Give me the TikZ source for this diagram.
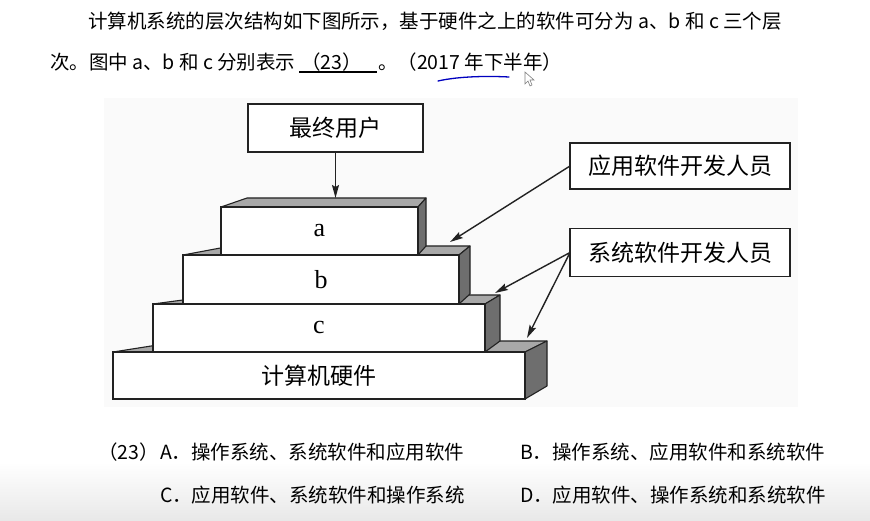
\documentclass[tikz,border=0pt]{standalone}
\usepackage{fontspec}
\setmainfont{Liberation Serif}
\newfontfamily\cjk{Noto Sans CJK SC}
\usetikzlibrary{arrows.meta,calc}
\newcommand\hdr{\cjk\fontsize{19.5}{21}\selectfont}
\newcommand\lbl{\cjk\fontsize{23}{25}\selectfont}
\definecolor{topgray}{HTML}{A8A8A8}
\definecolor{sidegray}{HTML}{6E6E6E}
\definecolor{edge}{HTML}{222222}
\begin{document}
\begin{tikzpicture}[x=1pt,y=-1pt,
  txt/.style={inner sep=0pt, outer sep=0pt, anchor=west, font=\hdr},
  lblbox/.style={draw=edge, line width=1.3pt, fill=white, inner sep=0pt, outer sep=0pt, font=\lbl},
  front/.style={draw=edge, line width=1.3pt, fill=white, inner sep=0pt, outer sep=0pt},
  topface/.style={draw=edge, line width=1.1pt, fill=topgray, line join=round},
  sideface/.style={draw=edge, line width=1.1pt, fill=sidegray, line join=round},
  arr/.style={draw=edge, line width=1.4pt, -{Stealth[length=13pt,width=7pt,inset=2pt]}}
]
\useasboundingbox (0,0) rectangle (870,521);
\shade[top color=white, bottom color=black!9] (0,462) rectangle (870,521);
\fill[black!2] (104,98) rectangle (798,407);

% header text
\node[txt] (l1) at (88,21) {计算机系统的层次结构如下图所示，基于硬件之上的软件可分为 a、b 和 c 三个层};
\node[txt] (l2a) at (50,62) {次。图中 a、b 和 c 分别表示};
\node[txt] (l2b) at (301,62) {（23）};
\node[txt] (l2c) at (378,62) {。（2017 年下半年）};
\draw[line width=1.1pt] (299,72) -- (377,72);
\draw[blue!75!black, line width=1.3pt, line cap=round] (438,81) .. controls (460,76) and (490,76) .. (509,77);
\draw[gray, line width=0.6pt, fill=white] (525,72) -- (525,84) -- (528,81) -- (530,86) -- (532,85) -- (530,80) -- (534,80) -- cycle;

% blocks: hardware
\node[front, minimum width=412pt, minimum height=47pt, font=\lbl] (hw) at (319,375.5) {计算机硬件};
\path[topface] (hw.north west) -- ($(hw.north west)+(70,-11)$) -- ($(hw.north east)+(22,-11)$) -- (hw.north east) -- cycle;
\path[sideface] (hw.north east) -- ($(hw.north east)+(22,-11)$) -- ($(hw.south east)+(22,-13)$) -- (hw.south east) -- cycle;
\node[front, minimum width=412pt, minimum height=47pt, font=\lbl] at (319,375.5) {计算机硬件};

% c
\node[front, minimum width=332pt, minimum height=48pt] (c) at (319,328) {};
\path[topface] (c.north west) -- ($(c.north west)+(67,-9)$) -- ($(c.north east)+(15,-9)$) -- (c.north east) -- cycle;
\path[sideface] (c.north east) -- ($(c.north east)+(15,-9)$) -- ($(c.south east)+(15,-11)$) -- (c.south east) -- cycle;
\node[front, minimum width=332pt, minimum height=48pt, font=\fontsize{26}{27}\selectfont] at (319,328) {c};

% b
\node[front, minimum width=276pt, minimum height=49pt] (b) at (321,279.5) {};
\path[topface] (b.north west) -- ($(b.north west)+(48,-9)$) -- ($(b.north east)+(11,-9)$) -- (b.north east) -- cycle;
\path[sideface] (b.north east) -- ($(b.north east)+(11,-9)$) -- ($(b.south east)+(11,-10)$) -- (b.south east) -- cycle;
\node[front, minimum width=276pt, minimum height=49pt, font=\fontsize{26}{27}\selectfont] at (321,279.5) {b};

% a
\node[front, minimum width=197pt, minimum height=48pt] (a) at (319.5,231) {};
\path[topface] (a.north west) -- ($(a.north west)+(26,-9)$) -- ($(a.north east)+(8,-9)$) -- (a.north east) -- cycle;
\path[sideface] (a.north east) -- ($(a.north east)+(8,-9)$) -- ($(a.south east)+(8,-9)$) -- (a.south east) -- cycle;
\node[front, minimum width=197pt, minimum height=48pt, font=\fontsize{26}{27}\selectfont] at (319.5,231) {a};

% label boxes
\node[lblbox, minimum width=175pt, minimum height=48pt] (u) at (335.5,128) {最终用户};
\node[lblbox, minimum width=220pt, minimum height=46pt] (app) at (680,166) {应用软件开发人员};
\node[lblbox, minimum width=220pt, minimum height=48pt] (sys) at (680,252.5) {系统软件开发人员};

\coordinate (atop) at (335.5,198);
\coordinate (btop) at (450,242);
\coordinate (ctop) at (495,293);
\coordinate (hwtop) at (527,338);
\draw[arr] (u.south) -- (atop);
\draw[arr] (app.west) -- (btop);
\draw[arr] (sys.west) -- (ctop);
\draw[arr] (sys.west) -- (hwtop);

% options
\node[txt] (q) at (98,452) {（23）};
\node[txt] (oa) at (160,452) {A．操作系统、系统软件和应用软件};
\node[txt] (ob) at (520,452) {B．操作系统、应用软件和系统软件};
\node[txt] (oc) at (160,495) {C．应用软件、系统软件和操作系统};
\node[txt] (od) at (520,495) {D．应用软件、操作系统和系统软件};
\end{tikzpicture}
\end{document}
